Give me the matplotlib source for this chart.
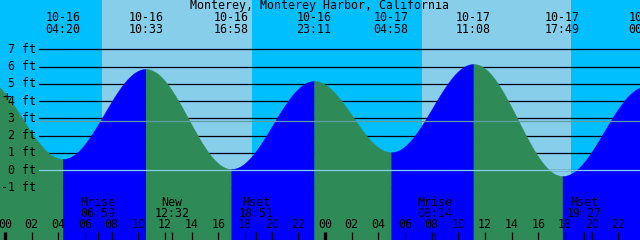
import numpy as np
import matplotlib
matplotlib.use('Agg')
import matplotlib.pyplot as plt

plt.rcParams['font.family'] = 'DejaVu Sans Mono'

# tide extremes (hours from 10-16 00:00, height in ft)
ext_hours = [-1.7, 4.333, 10.55, 16.967, 23.183, 28.967, 35.133, 41.817, 48.083]
ext_heights = [5.3, 0.64, 5.86, 0.06, 5.16, 1.03, 6.15, -0.35, 4.85]
ext_dates = ['10-15', '10-16', '10-16', '10-16', '10-16', '10-17', '10-17', '10-17', '10-18']
ext_times = ['22:18', '04:20', '10:33', '16:58', '23:11', '04:58', '11:08', '17:49', '00:05']

# daylight (sunrise, sunset) in hours
sunrise = [7.25, 31.27]
sunset = [18.5, 42.43]

# moon events
moon_hours = [6.983, 12.533, 18.85, 32.233, 43.45]
moon_names = ['Mrise', 'New', 'Mset', 'Mrise', 'Mset']
moon_times = ['06:59', '12:32', '18:51', '08:14', '19:27']

msl = 2.87
ft_levels = [-1, 0, 1, 2, 3, 4, 5, 6, 7]

night = '#00BFFF'
day = '#87CEEB'
rising = '#0000FF'
falling = '#2E8B57'

# pixel scale of the original chart
px_h = 13.333
px_ft = 17.24
x0 = -5 / px_h
x1 = (640 - 5) / px_h
y0 = -70 / px_ft
y1 = 170 / px_ft

def px2h(px):
    return (px - 5) / px_h

def py2ft(py):
    return (170 - py) / px_ft

fig = plt.figure(figsize=(6.4, 2.4), dpi=100)
ax = fig.add_axes([0, 0, 1, 1])
ax.set_xlim(x0, x1)
ax.set_ylim(y0, y1)
ax.axis('off')
fig.patch.set_facecolor(night)
ax.axvspan(x0, x1, color=night, lw=0, zorder=0)
for a, b in zip(sunrise, sunset):
    ax.axvspan(a, b, color=day, lw=0, zorder=0.1)

# foot grid lines
line_start = px2h(39)
for lv in ft_levels:
    ax.plot([line_start, x1], [lv, lv], color='black', lw=0.9, zorder=1)

# water, blue while rising, green while falling
for i in range(len(ext_hours) - 1):
    ta, tb = ext_hours[i], ext_hours[i + 1]
    ha, hb = ext_heights[i], ext_heights[i + 1]
    t = np.linspace(ta, tb, 200)
    h = hb + (ha - hb) * (1 + np.cos(np.pi * (t - ta) / (tb - ta))) / 2
    col = rising if hb > ha else falling
    ax.fill_between(t, h, y0, color=col, lw=0.3, edgecolor=col, zorder=2)

ax.plot([line_start, x1], [0, 0], color='#87CEEB', lw=0.9, zorder=3)
ax.plot([line_start, x1], [msl, msl], color='#5F9EA0', lw=0.9, zorder=3)

fs = 8.4
for lv in ft_levels:
    ax.text(px2h(36), lv, f'{lv} ft', ha='right', va='center', fontsize=fs, zorder=5)
ax.text(px2h(7), py2ft(97), '+', ha='center', va='center', fontsize=fs + 2, zorder=5)

ax.text(px2h(320), py2ft(5.5), 'Monterey, Monterey Harbor, California',
        ha='center', va='center', fontsize=fs, zorder=5)
for t, d, s in zip(ext_hours, ext_dates, ext_times):
    if t < x0:
        continue
    ax.text(t, py2ft(17.5), d, ha='center', va='center', fontsize=fs, zorder=5)
    ax.text(t, py2ft(29.5), s, ha='center', va='center', fontsize=fs, zorder=5)

for t, n, s in zip(moon_hours, moon_names, moon_times):
    ax.text(t, py2ft(202), n, ha='center', va='center', fontsize=fs, zorder=5)
    ax.text(t, py2ft(213.5), s, ha='center', va='center', fontsize=fs, zorder=5)

# hour ticks and labels
hours = np.arange(0, 50, 2)
for hr in hours:
    ax.text(hr, py2ft(225), f'{hr % 24:02d}', ha='center', va='center', fontsize=fs, zorder=5)
    lw = 2.4 if hr % 24 == 0 else 0.9
    ax.plot([hr, hr], [py2ft(232), y0], color='black', lw=lw, zorder=5, solid_capstyle='butt')
for t in moon_hours:
    ax.plot([t, t], [py2ft(232), y0], color='black', lw=0.9, zorder=5, solid_capstyle='butt')

fig.savefig('out.png', dpi=100, facecolor=fig.get_facecolor())
